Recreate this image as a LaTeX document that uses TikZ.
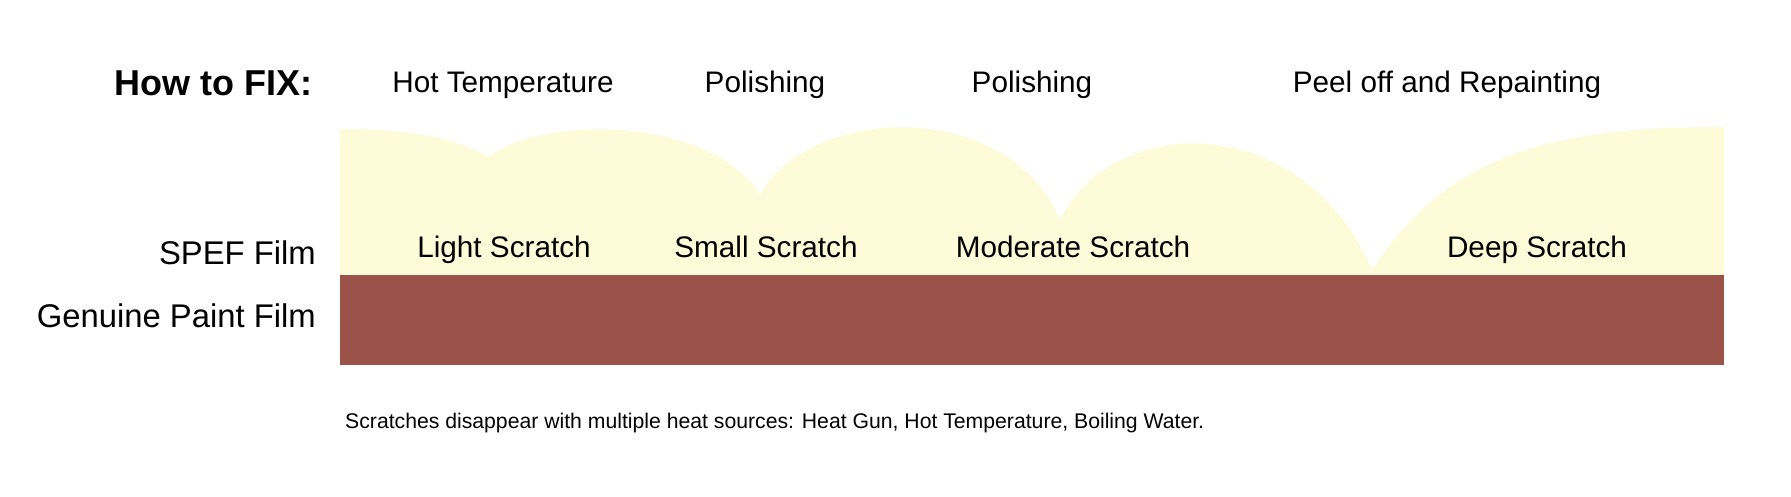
\documentclass[tikz,border=0pt]{standalone}
\usepackage{fontspec}
\setmainfont{Liberation Sans}
\definecolor{spef}{RGB}{254,251,216}
\definecolor{paint}{RGB}{155,83,73}
\tikzset{
  lbl/.style={inner sep=0pt, anchor=base, font=\fontsize{29.7}{34}\selectfont},
  side/.style={inner sep=0pt, anchor=base east, font=\fontsize{32.8}{38}\selectfont},
  head/.style={inner sep=0pt, anchor=base east, font=\fontsize{36}{42}\selectfont\bfseries},
  note/.style={inner sep=0pt, anchor=base west, font=\fontsize{21.2}{25}\selectfont},
}
\begin{document}
\begin{tikzpicture}[x=1pt,y=-1pt]
\useasboundingbox (0,0) rectangle (1791,497);
\fill[spef] (340,275) -- (340,129)
  .. controls (400,129) and (450,135) .. (489,157)
  .. controls (535,118) and (705,112) .. (760,194)
  .. controls (815,102) and (1010,100) .. (1060,220)
  .. controls (1115,110) and (1305,112) .. (1372,270)
  .. controls (1450,150) and (1560,127) .. (1724,127)
  -- (1724,275) -- cycle;
\fill[paint] (340,275) rectangle (1724,365);
\node[head] (fix) at (313,96) {How to FIX:};
\node[lbl] (hot) at (503,93) {Hot Temperature};
\node[lbl] (pol1) at (765,93) {Polishing};
\node[lbl] (pol2) at (1032,93) {Polishing};
\node[lbl] (peel) at (1447,93) {Peel off and Repainting};
\node[side] (spefl) at (316,264) {SPEF Film};
\node[side] (paintl) at (316,327) {Genuine Paint Film};
\node[lbl] (light) at (504,258) {Light Scratch};
\node[lbl] (small) at (766,258) {Small Scratch};
\node[lbl] (mod) at (1073,258) {Moderate Scratch};
\node[lbl] (deep) at (1537,258) {Deep Scratch};
\node[note] (foot) at (345,428) {Scratches disappear with multiple heat sources: Heat Gun, Hot Temperature, Boiling Water.};
\end{tikzpicture}
\end{document}
